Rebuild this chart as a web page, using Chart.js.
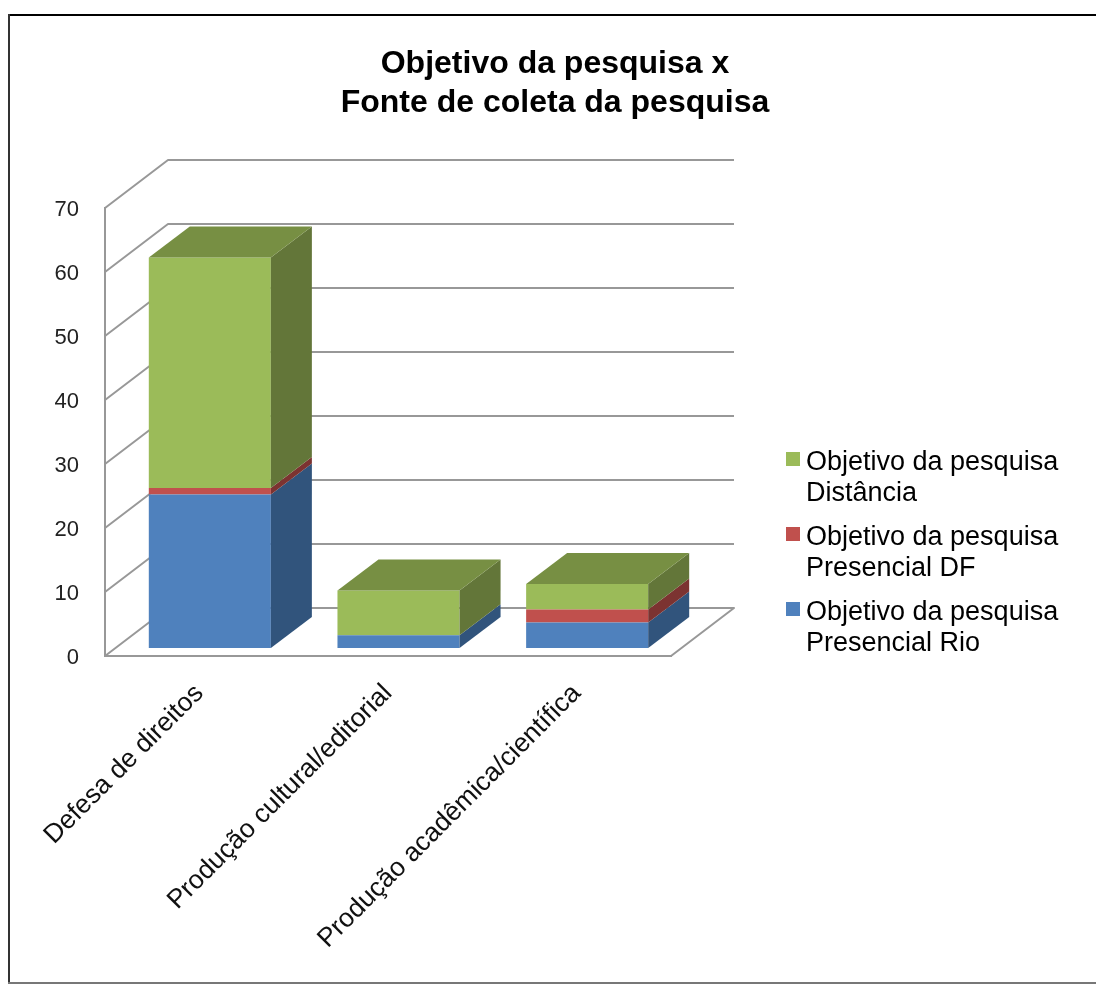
<!DOCTYPE html>
<html>
<head>
<meta charset="utf-8">
<title>Objetivo da pesquisa x Fonte de coleta da pesquisa</title>
<script src="https://cdn.jsdelivr.net/npm/chart.js@4/dist/chart.umd.min.js"></script>
<style>
  html, body { margin: 0; padding: 0; background: #fff; }
  canvas { display: block; }
</style>
</head>
<body>
<canvas id="chart" width="1096" height="984"></canvas>
<script>
const categories = ['Defesa de direitos', 'Produção cultural/editorial', 'Produção acadêmica/científica'];
const presencialRio = [24, 2, 4];
const presencialDF = [1, 0, 2];
const distancia = [36, 7, 4];
const yTicks = [0, 10, 20, 30, 40, 50, 60, 70];

const fontFamily = '"Liberation Sans", Arial, sans-serif';
const gridColor = '#989898';

// depth of the box (walls) and of the bars, in pixels
const wallDepth = { x: 63, y: -48 };
const barDepth = { x: 41, y: -31 };
const barShift = { x: 10.5, y: -8 };

const sideColors = ['#31547c', '#7c3331', '#637639'];
const topColor = '#778f43';

const poly = (ctx, pts, color) => {
  ctx.fillStyle = color;
  ctx.beginPath();
  pts.forEach((p, i) => (i ? ctx.lineTo(p[0], p[1]) : ctx.moveTo(p[0], p[1])));
  ctx.closePath();
  ctx.fill();
};

const box3d = {
  id: 'box3d',
  afterLayout(chart) {
    // title and legend sit where the picture has them, not where the layout put them
    const title = chart.titleBlock;
    title.left = 14;
    title.right = 1096;
    const legend = chart.legend;
    legend.left = 779.5;
    legend.right = 1096;
    legend.top = 436;
    legend.bottom = 984;
    legend.adjustHitBoxes();
  },
  beforeDatasetsDraw(chart) {
    const ctx = chart.ctx;
    const { left, right } = chart.chartArea;
    const y = chart.scales.y;
    ctx.save();
    ctx.strokeStyle = gridColor;
    ctx.lineWidth = 2;
    ctx.lineJoin = 'round';
    yTicks.forEach((v) => {
      const py = y.getPixelForValue(v);
      ctx.beginPath();
      ctx.moveTo(left, py);
      ctx.lineTo(left + wallDepth.x, py + wallDepth.y);
      ctx.lineTo(right + wallDepth.x, py + wallDepth.y);
      if (v === 0) ctx.lineTo(right, py);
      ctx.stroke();
    });
    ctx.restore();
    ctx.save();
    ctx.translate(barShift.x, barShift.y);
  },
  afterDatasetsDraw(chart) {
    const ctx = chart.ctx;
    const last = chart.data.datasets.length - 1;
    chart.data.datasets.forEach((ds, d) => {
      chart.getDatasetMeta(d).data.forEach((bar) => {
        const p = bar.getProps(['x', 'y', 'base', 'width'], true);
        const l = p.x - p.width / 2;
        const r = p.x + p.width / 2;
        if (p.base - p.y > 0.5) {
          poly(ctx, [[r, p.y], [r + barDepth.x, p.y + barDepth.y], [r + barDepth.x, p.base + barDepth.y], [r, p.base]], sideColors[d]);
        }
        if (d === last) {
          poly(ctx, [[l, p.y], [l + barDepth.x, p.y + barDepth.y], [r + barDepth.x, p.y + barDepth.y], [r, p.y]], topColor);
        }
      });
    });
    ctx.restore();
  },
  afterDraw(chart) {
    const ctx = chart.ctx;
    // legend swatches, closer to the text than the library puts them
    const legend = chart.legend;
    legend.legendHitBoxes.forEach((hb, i) => {
      ctx.fillStyle = legend.legendItems[i].fillStyle;
      ctx.fillRect(786, hb.top + 3, 14, 14);
    });
    // page frame
    ctx.fillStyle = '#000';
    ctx.fillRect(8, 14, 1088, 2);
    ctx.fillStyle = '#333';
    ctx.fillRect(8, 14, 2, 970);
    ctx.fillStyle = '#777';
    ctx.fillRect(8, 982, 1088, 2);
  },
};

new Chart(document.getElementById('chart'), {
  type: 'bar',
  plugins: [box3d],
  data: {
    labels: categories,
    datasets: [
      { label: 'Objetivo da pesquisa Presencial Rio', data: presencialRio, backgroundColor: '#4f81bd', legendLines: ['Objetivo da pesquisa', 'Presencial Rio'] },
      { label: 'Objetivo da pesquisa Presencial DF', data: presencialDF, backgroundColor: '#c0504d', legendLines: ['Objetivo da pesquisa', 'Presencial DF'] },
      { label: 'Objetivo da pesquisa Distância', data: distancia, backgroundColor: '#9bbb59', legendLines: ['Objetivo da pesquisa', 'Distância'] },
    ],
  },
  options: {
    responsive: false,
    animation: false,
    layout: { padding: { left: 0, top: 0, right: 425, bottom: 0 } },
    datasets: { bar: { categoryPercentage: 1, barPercentage: 0.647 } },
    scales: {
      x: {
        stacked: true,
        afterFit(scale) { scale.height = 328; },
        grid: { display: false, drawTicks: false },
        border: { display: true, color: gridColor, width: 2 },
        ticks: {
          color: '#111',
          font: { family: fontFamily, size: 26.4 },
          minRotation: 45,
          maxRotation: 45,
          padding: 22,
          autoSkip: false,
        },
      },
      y: {
        stacked: true,
        min: 0,
        max: 70,
        afterFit(scale) { scale.width = 105; },
        grid: { display: false, drawTicks: false },
        border: { display: true, color: gridColor, width: 2 },
        ticks: {
          color: '#222',
          font: { family: fontFamily, size: 22 },
          stepSize: 10,
          padding: 26,
          labelOffset: 1.5,
        },
      },
    },
    plugins: {
      tooltip: { enabled: false },
      title: {
        display: true,
        text: ['Objetivo da pesquisa x', 'Fonte de coleta da pesquisa'],
        color: '#000',
        font: { family: fontFamily, size: 32, weight: 'bold', lineHeight: 39 / 32 },
        padding: { top: 45, bottom: 85 },
      },
      legend: {
        position: 'chartArea',
        align: 'start',
        reverse: true,
        labels: {
          color: '#000',
          font: { family: fontFamily, size: 27, lineHeight: 31 / 27 },
          boxWidth: 0,
          padding: 13,
          generateLabels(chart) {
            return chart.data.datasets.map((ds, i) => ({
              text: ds.legendLines,
              fillStyle: ds.backgroundColor,
              strokeStyle: 'transparent',
              lineWidth: 0,
              datasetIndex: i,
            }));
          },
        },
      },
    },
  },
});
</script>
</body>
</html>
